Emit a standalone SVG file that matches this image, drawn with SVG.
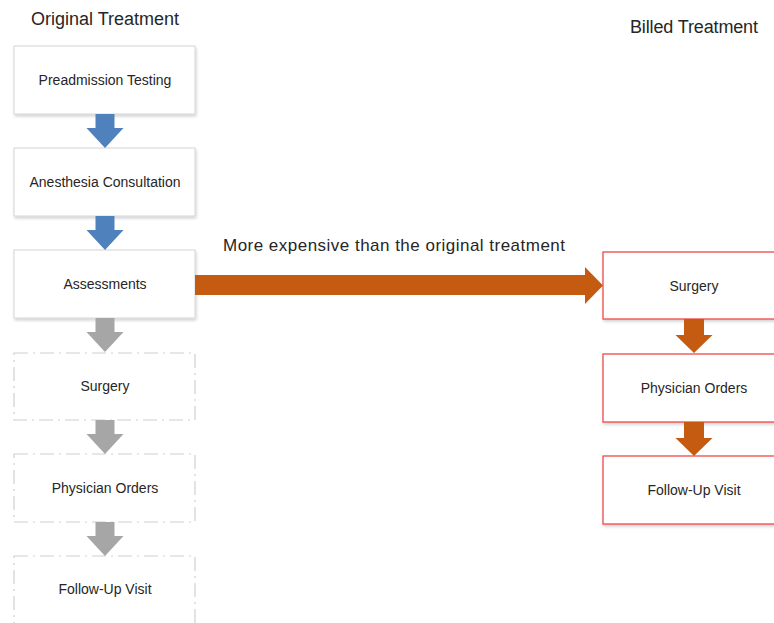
<svg xmlns="http://www.w3.org/2000/svg" width="774" height="623" viewBox="0 0 774 623">
  <defs>
    <filter id="soft" x="-10%" y="-10%" width="130%" height="130%">
      <feGaussianBlur in="SourceAlpha" stdDeviation="1.5"/>
      <feOffset dx="1" dy="1.5" result="b"/>
      <feComponentTransfer><feFuncA type="linear" slope="0.18"/></feComponentTransfer>
      <feMerge><feMergeNode/><feMergeNode in="SourceGraphic"/></feMerge>
    </filter>
    <!-- down-pointing block arrows, 34 tall, origin at top-centre -->
    <path id="down" d="M-9.5,0 H9.5 V14 H18.5 L0,34 L-18.5,14 H-9.5 Z"/>
    <path id="downR" d="M-10,0 H10 V16 H18.5 L0,34 L-18.5,16 H-10 Z"/>
  </defs>
  <style>
    text { font-family: "Liberation Sans", Arial, sans-serif; fill: #262626; }
    .title { font-size: 18px; }
    .lbl { font-size: 14px; text-anchor: middle; }
    .box { fill: #ffffff; stroke: #d4d4d4; stroke-width: 1; }
    .dash { fill: #ffffff; stroke: #d0d0d0; stroke-width: 1.2; stroke-dasharray: 14 5 2 5; }
    .red { fill: #ffffff; stroke: #f04848; stroke-width: 1.3; }
    .blue { fill: #4f81bd; }
    .gray { fill: #a6a6a6; }
    .rust { fill: #c55a11; }
  </style>
  <rect width="774" height="623" fill="#ffffff"/>

  <text class="title" x="31" y="25">Original Treatment</text>
  <text class="title" x="630" y="33" textLength="128">Billed Treatment</text>

  <!-- original treatment column -->
  <g id="preadmission"><rect class="box" filter="url(#soft)" x="14" y="46" width="181" height="68"/><text class="lbl" x="105" y="85">Preadmission Testing</text></g>
  <g id="anesthesia"><rect class="box" filter="url(#soft)" x="14" y="148" width="181" height="68"/><text class="lbl" x="105" y="187">Anesthesia Consultation</text></g>
  <g id="assessments"><rect class="box" filter="url(#soft)" x="14" y="250" width="181" height="68"/><text class="lbl" x="105" y="289">Assessments</text></g>
  <g id="surgery-orig"><rect class="dash" x="14" y="353" width="181" height="67"/><text class="lbl" x="105" y="391">Surgery</text></g>
  <g id="orders-orig"><rect class="dash" x="14" y="454" width="181" height="68"/><text class="lbl" x="105" y="493">Physician Orders</text></g>
  <g id="followup-orig"><rect class="dash" x="14" y="556" width="181" height="80"/><text class="lbl" x="105" y="594">Follow-Up Visit</text></g>

  <!-- billed treatment column -->
  <g id="surgery-billed"><rect class="red" filter="url(#soft)" x="603" y="252" width="182" height="67"/><text class="lbl" x="694" y="291">Surgery</text></g>
  <g id="orders-billed"><rect class="red" filter="url(#soft)" x="603" y="354" width="182" height="68"/><text class="lbl" x="694" y="393">Physician Orders</text></g>
  <g id="followup-billed"><rect class="red" filter="url(#soft)" x="603" y="456" width="182" height="68"/><text class="lbl" x="694" y="495">Follow-Up Visit</text></g>

  <g id="connectors">
    <use href="#down" class="blue" x="105" y="114"/>
    <use href="#down" class="blue" x="105" y="216"/>
    <use href="#down" class="gray" x="105" y="318"/>
    <use href="#down" class="gray" x="105" y="420"/>
    <use href="#down" class="gray" x="105" y="522"/>
    <use href="#downR" class="rust" x="694" y="319"/>
    <use href="#downR" class="rust" x="694" y="422"/>
    <path class="rust" d="M195,275 H585 V267 L603,285.5 L585,304 V295 H195 Z"/>
    <text x="223" y="251" font-size="17" textLength="342">More expensive than the original treatment</text>
  </g>
</svg>
